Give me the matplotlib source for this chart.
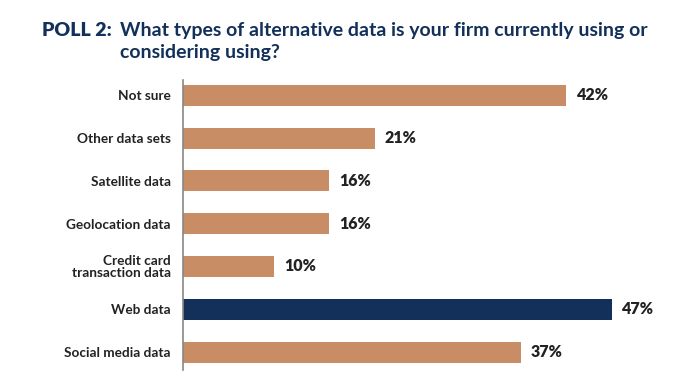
import matplotlib
matplotlib.use("Agg")
import matplotlib.pyplot as plt

categories = ["Not sure", "Other data sets", "Satellite data", "Geolocation data",
              "Credit card\ntransaction data", "Web data", "Social media data"]
values = [42, 21, 16, 16, 10, 47, 37]
highlight = "Web data"

orange = "#C98D66"
navy = "#13305A"
text_dark = "#222222"

plt.rcParams['font.family'] = ['Lato', 'DejaVu Sans']

fig = plt.figure(figsize=(7, 3.91), dpi=100)
ax = fig.add_axes([183/700, 1 - 370/391, (50*9.13)/700, 290/391])

colors = [navy if c == highlight else orange for c in categories]
y = list(range(len(categories)))
ax.barh(y, values, height=0.49, color=colors)
ax.set_ylim(6.42, -0.36)
ax.set_xlim(0, 50)

for yi, v in zip(y, values):
    ax.text(v + 1.1, yi, f"{v}%", va="center", ha="left", fontsize=11.5,
            fontweight="heavy", color=text_dark)

ax.set_yticks(y)
ax.set_yticklabels(categories, fontsize=9.8, fontweight="bold", color=text_dark,
                   linespacing=1.0)
ax.tick_params(axis="y", length=0, pad=9)
ax.set_xticks([])
for s in ["top", "right", "bottom"]:
    ax.spines[s].set_visible(False)
ax.spines["left"].set_color("#888888")
ax.spines["left"].set_linewidth(1.2)

fig.text(42/700, 1 - 36/391, "POLL 2:", fontsize=14, fontweight="heavy",
         color=navy, ha="left", va="baseline")
fig.text(120/700, 1 - 36/391, "What types of alternative data is your firm currently using or",
         fontsize=14, fontweight="bold", color=navy, ha="left", va="baseline")
fig.text(120/700, 1 - 58/391, "considering using?",
         fontsize=14, fontweight="bold", color=navy, ha="left", va="baseline")

fig.savefig("out.png", dpi=100)
